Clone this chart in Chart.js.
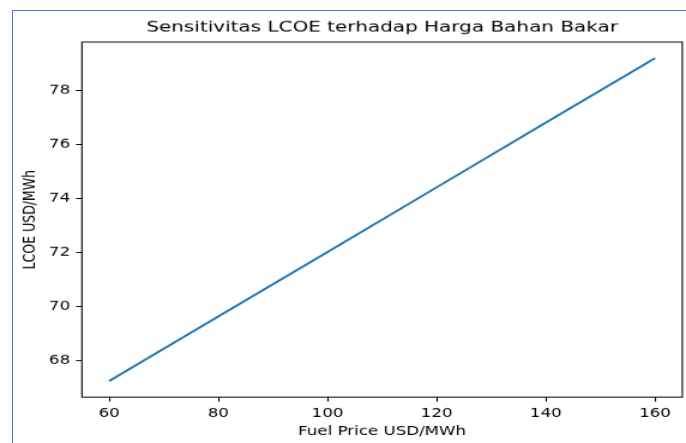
<!DOCTYPE html>
<html>
<head>
<meta charset="utf-8">
<script src="https://cdn.jsdelivr.net/npm/chart.js@4/dist/chart.umd.min.js"></script>
<style>
    html, body { margin: 0; padding: 0; background: #fff; }
    #wadah { position: relative; width: 686px; height: 443px; overflow: hidden; }
    #grafik { position: absolute; left: 0; top: 0; }
    #bingkai {
        position: absolute; left: 12px; top: 10px; width: 700px; height: 460px;
        border-left: 1px solid #4a7bd0; border-top: 1px solid #4a7bd0;
        pointer-events: none;
    }
</style>
</head>
<body>
<div id="wadah">
    <!-- kanvas digambar 572x492 lalu direntangkan ke 686x443 seperti gambar aslinya -->
    <canvas id="grafik" width="572" height="492" style="width:686px;height:443px"></canvas>
    <div id="bingkai"></div>
</div>
<script>
// Data sensitivitas
const hargaBahanBakar = [60, 80, 100, 120, 140, 160];           // USD/MWh
const nilaiLCOE = [67.23, 69.63, 72.02, 74.42, 76.82, 79.21];   // USD/MWh
const tickX = [60, 80, 100, 120, 140, 160];
const tickY = [68, 70, 72, 74, 76, 78];

const judul = 'Sensitivitas LCOE terhadap Harga Bahan Bakar';
const labelX = 'Fuel Price USD/MWh';
const labelY = 'LCOE USD/MWh';

// Batas sumbu dengan margin 5% seperti matplotlib
function batas(arr) {
    const min = Math.min(...arr), max = Math.max(...arr);
    const m = (max - min) * 0.05;
    return { min: min - m, max: max + m };
}
const bx = batas(hargaBahanBakar);
const by = batas(nilaiLCOE);

const huruf = "'DejaVu Sans', sans-serif";

// Plugin untuk garis bingkai area plot
const bingkaiPlot = {
    id: 'bingkaiPlot',
    afterDraw(chart) {
        const { ctx, chartArea: a } = chart;
        ctx.save();
        ctx.strokeStyle = '#000';
        ctx.lineWidth = 1.1;
        ctx.strokeRect(a.left, a.top, a.right - a.left, a.bottom - a.top);
        ctx.restore();
    }
};

const latarPutih = {
    id: 'latarPutih',
    beforeDraw(chart) {
        const ctx = chart.ctx;
        ctx.save();
        ctx.fillStyle = '#fff';
        ctx.fillRect(0, 0, chart.width, chart.height);
        ctx.restore();
    }
};

new Chart(document.getElementById('grafik').getContext('2d'), {
    type: 'line',
    data: {
        datasets: [{
            data: hargaBahanBakar.map((x, i) => ({ x: x, y: nilaiLCOE[i] })),
            borderColor: '#1f77b4',
            borderWidth: 2.1,
            pointRadius: 0,
            fill: false,
            tension: 0
        }]
    },
    options: {
        responsive: false,
        devicePixelRatio: 1,
        animation: false,
        layout: { padding: { top: 0, right: 3.1, left: 0, bottom: 0 } },
        plugins: {
            legend: { display: false },
            tooltip: { enabled: false },
            title: {
                display: true,
                fullSize: false,   // judul di tengah area plot
                text: judul,
                color: '#000',
                font: { family: huruf, size: 16.67, weight: 'normal', lineHeight: 1.2 },
                padding: { top: 21.1, bottom: 5.6 }
            }
        },
        scales: {
            x: {
                type: 'linear',
                min: bx.min,
                max: bx.max,
                afterBuildTicks: (s) => { s.ticks = tickX.map(v => ({ value: v })); },
                afterFit: (s) => { s.height = 50.9; },
                border: { display: false },
                grid: { drawOnChartArea: false, drawTicks: true, tickLength: 4.9, tickColor: '#000', tickWidth: 1.1 },
                ticks: { color: '#000', padding: 4.9, maxRotation: 0, font: { family: huruf, size: 13.9 } },
                title: {
                    display: true, text: labelX, color: '#000',
                    font: { family: huruf, size: 13.9, lineHeight: 1.2 },
                    padding: { top: 0, bottom: 4.75 }
                }
            },
            y: {
                type: 'linear',
                min: by.min,
                max: by.max,
                afterBuildTicks: (s) => { s.ticks = tickY.map(v => ({ value: v })); },
                afterFit: (s) => { s.width = 68.3; },
                border: { display: false },
                grid: { drawOnChartArea: false, drawTicks: true, tickLength: 4.9, tickColor: '#000', tickWidth: 1.1 },
                ticks: { color: '#000', padding: 4.9, font: { family: huruf, size: 13.9 } },
                title: {
                    display: true, text: labelY, color: '#000',
                    font: { family: huruf, size: 13.9, lineHeight: 1.2 },
                    padding: { top: 16.6, bottom: 0 }
                }
            }
        }
    },
    plugins: [latarPutih, bingkaiPlot]
});
</script>
</body>
</html>
